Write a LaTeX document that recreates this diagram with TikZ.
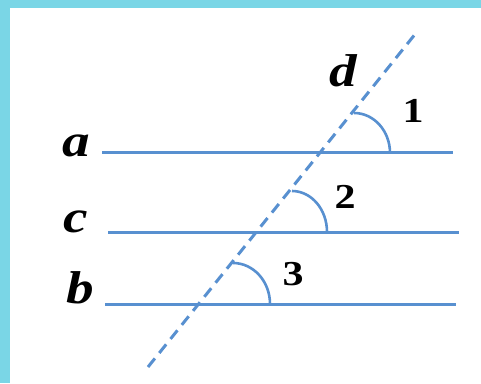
\documentclass[tikz,border=0pt]{standalone}
\usepackage{fontspec}
\usepackage{tikz}
\usetikzlibrary{calc}
\newfontfamily\figfont[FakeStretch=1.2]{Liberation Serif}
\definecolor{lineblue}{RGB}{88,144,208}
\definecolor{framecyan}{RGB}{122,214,230}
\tikzstyle{parline} = [lineblue,line width=3pt]
\tikzstyle{transv} = [lineblue,line width=3pt,dash pattern=on 11pt off 7pt]
\tikzstyle{anglearc} = [lineblue,line width=2.6pt]
\tikzstyle{lbl} = [anchor=base,inner sep=0pt,font=\figfont\fontsize{46}{46}\selectfont\bfseries\itshape]
\tikzstyle{num} = [anchor=base,inner sep=0pt,font=\figfont\fontsize{35}{35}\selectfont\bfseries]

\begin{document}
\begin{tikzpicture}[x=1pt,y=1pt]
        \fill[framecyan] (0,0) rectangle (481,383);
        \fill[white] (10,0) rectangle (481,375);
        \useasboundingbox (0,0) rectangle (481,383);

        % the three lines and the transversal
        \coordinate (a0) at (102,230); \coordinate (a1) at (453,230);
        \coordinate (c0) at (108,151); \coordinate (c1) at (459,151);
        \coordinate (b0) at (105,79);  \coordinate (b1) at (456,79);
        \coordinate (d0) at (148,16);  \coordinate (d1) at (416,350);

        \draw[parline] (a0) -- (a1);
        \draw[parline] (c0) -- (c1);
        \draw[parline] (b0) -- (b1);
        \draw[transv] (d0) -- (d1);

        \coordinate (p1) at (319,230);
        \coordinate (p2) at (258,151);
        \coordinate (p3) at (197,79);

        \draw[anglearc] ($(p1)+(35,40)$) arc[start angle=90,end angle=0,x radius=36,y radius=40];
        \draw[anglearc] ($(p2)+(34,41)$) arc[start angle=90,end angle=0,x radius=35,y radius=41];
        \draw[anglearc] ($(p3)+(36,41)$) arc[start angle=90,end angle=0,x radius=37,y radius=41];

        \node[lbl] (la) at (76,226) {a};
        \node[lbl] (lc) at (76,150) {c};
        \node[lbl] (lb) at (80,80) {b};
        \node[lbl] (ld) at (343,296) {d};

        \node[num] (n1) at (413,260) {1};
        \node[num] (n2) at (345,175) {2};
        \node[num] (n3) at (293,98) {3};
\end{tikzpicture}
\end{document}
